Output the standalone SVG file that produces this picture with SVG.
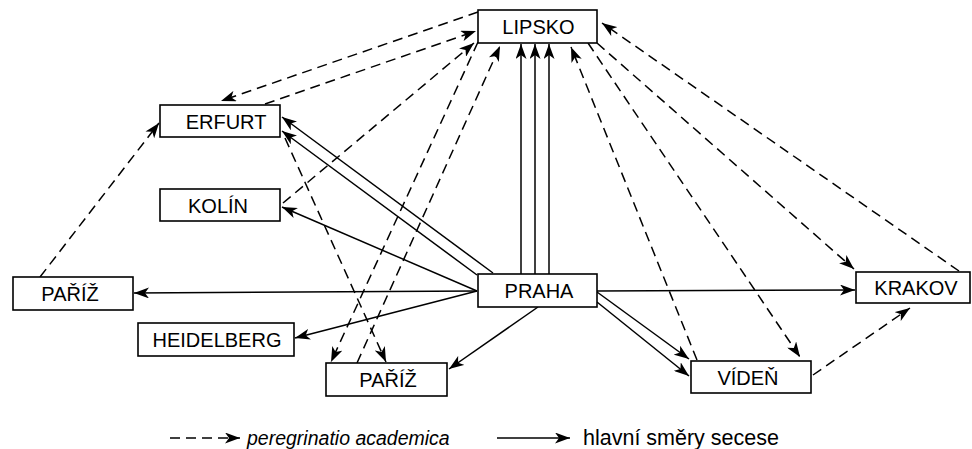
<svg xmlns="http://www.w3.org/2000/svg" width="972" height="449" viewBox="0 0 972 449">
<style>
.box{fill:#fff;stroke:#000;stroke-width:1.6}
.lbl{font-family:"Liberation Sans",Arial,sans-serif;font-size:20px;fill:#000;text-anchor:middle}
.leg{font-family:"Liberation Sans",Arial,sans-serif;fill:#000}
.s{stroke:#000;stroke-width:1.5;fill:none;marker-end:url(#ah)}
.d{stroke:#000;stroke-width:1.5;fill:none;stroke-dasharray:10 6;marker-end:url(#ah)}
</style>
<defs>
<marker id="ah" markerUnits="userSpaceOnUse" markerWidth="16" markerHeight="11" refX="15" refY="5.5" orient="auto">
<path d="M0,0 L15,5.5 L0,11 L4,5.5 Z" fill="#000"/>
</marker>
</defs>
<rect width="972" height="449" fill="#fff"/>
<g id="connectors">
<line class="s" x1="521" y1="274" x2="521" y2="44"/>
<line class="s" x1="535" y1="274" x2="535" y2="44"/>
<line class="s" x1="549" y1="274" x2="549" y2="44"/>
<line class="s" x1="493" y1="273" x2="282" y2="117"/>
<line class="s" x1="477" y1="275" x2="282" y2="131"/>
<line class="s" x1="477" y1="291" x2="282" y2="207"/>
<line class="s" x1="477" y1="291" x2="134" y2="293"/>
<line class="s" x1="477" y1="291" x2="295" y2="338"/>
<line class="s" x1="538" y1="307" x2="449" y2="369"/>
<line class="s" x1="597" y1="291" x2="855" y2="290"/>
<line class="s" x1="597" y1="292" x2="689" y2="359"/>
<line class="s" x1="597" y1="302" x2="689" y2="376"/>
<line class="d" x1="40" y1="277" x2="159" y2="123"/>
<line class="d" x1="478" y1="12" x2="221" y2="101"/>
<line class="d" x1="265" y1="104" x2="476" y2="31"/>
<line class="d" x1="283" y1="203" x2="474" y2="43"/>
<line class="d" x1="285" y1="138" x2="386" y2="362"/>
<line class="d" x1="478" y1="42" x2="331" y2="362"/>
<line class="d" x1="357" y1="363" x2="500" y2="46"/>
<line class="d" x1="697" y1="360" x2="571" y2="47"/>
<line class="d" x1="588" y1="43" x2="800" y2="357"/>
<line class="d" x1="597" y1="43" x2="854" y2="269"/>
<line class="d" x1="959" y1="271" x2="602" y2="23"/>
<line class="d" x1="813" y1="375" x2="910" y2="308"/>
</g>
<g id="lipsko"><rect class="box" x="478" y="10" width="119" height="33"/><text class="lbl" x="538.5" y="34">LIPSKO</text></g>
<g id="erfurt"><rect class="box" x="160" y="105" width="120" height="32"/><text class="lbl" x="226" y="128.5">ERFURT</text></g>
<g id="kolin"><rect class="box" x="160" y="189" width="120" height="32"/><text class="lbl" x="218" y="212.5">KOLÍN</text></g>
<g id="pariz-left"><rect class="box" x="13" y="277" width="120" height="33"/><text class="lbl" x="70" y="301">PAŘÍŽ</text></g>
<g id="heidelberg"><rect class="box" x="138" y="323" width="156" height="33"/><text class="lbl" x="217" y="347">HEIDELBERG</text></g>
<g id="praha"><rect class="box" x="478" y="274" width="119" height="33"/><text class="lbl" x="539" y="298">PRAHA</text></g>
<g id="pariz-bottom"><rect class="box" x="326" y="363" width="121" height="33"/><text class="lbl" x="388" y="387">PAŘÍŽ</text></g>
<g id="viden"><rect class="box" x="691" y="361" width="120" height="32"/><text class="lbl" x="748" y="384.5">VÍDEŇ</text></g>
<g id="krakov"><rect class="box" x="856" y="272" width="114" height="31"/><text class="lbl" x="916" y="295">KRAKOV</text></g>
<g id="legend">
<line class="d" x1="170" y1="438" x2="240" y2="438"/>
<text class="leg" x="247" y="445" style="font-style:italic;font-size:19.5px">peregrinatio academica</text>
<line class="s" x1="497" y1="438" x2="570" y2="438"/>
<text class="leg" x="583" y="445" style="font-size:21.5px">hlavní směry secese</text>
</g>
</svg>
